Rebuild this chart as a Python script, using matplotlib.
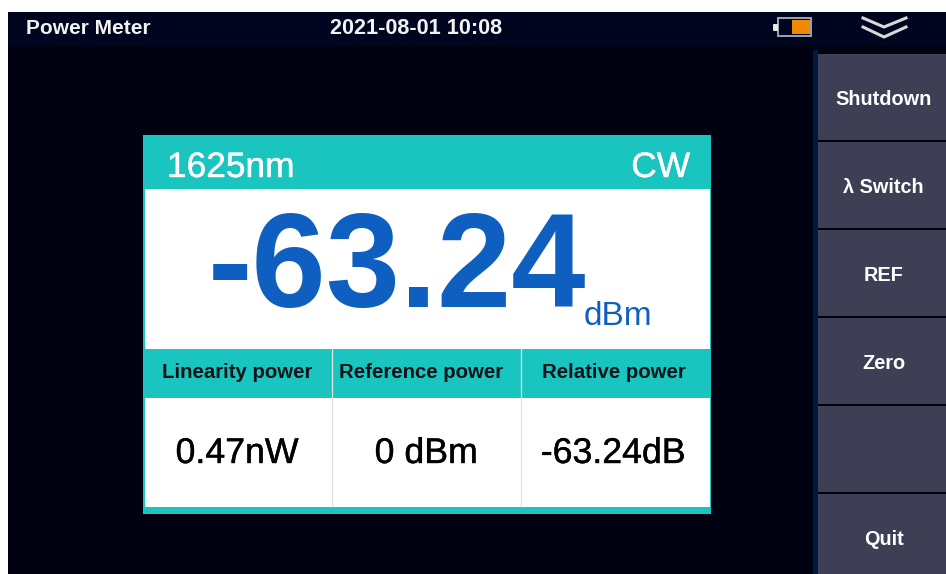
# coding: utf-8
import matplotlib
matplotlib.use('Agg')
import matplotlib.pyplot as plt
import matplotlib.patheffects as pe
from matplotlib.patches import Rectangle, FancyBboxPatch

plt.rcParams['font.family'] = ['Liberation Sans', 'DejaVu Sans']

# texts
title = 'Power Meter'
clock = '2021-08-01 10:08'
buttons = ['Shutdown', 'λ Switch', 'REF', 'Zero', '', 'Quit']
wavelength = '1625nm'
mode = 'CW'
reading = '-63.24'
unit = 'dBm'
headers = ['Linearity power', 'Reference power', 'Relative power']
values = ['0.47nW', '0 dBm', '-63.24dB']

W, H = 946, 574
DARK = '#000212'
BAR = '#00051f'
TEAL = '#1ac5bf'
BTN = '#3e3e54'
BLUE = '#0f5fc0'

fig = plt.figure(figsize=(W / 100, H / 100), dpi=100, facecolor='white')
ax = fig.add_axes([0, 0, 1, 1])
ax.set_xlim(0, W)
ax.set_ylim(H, 0)
ax.axis('off')


def box(x0, y0, x1, y1, color, z=1):
    ax.add_patch(Rectangle((x0, y0), x1 - x0, y1 - y0, fc=color, ec='none', zorder=z))


def heavy(color, w=0.3):
    # the screen font renders a bit fatter than Liberation does here
    return [pe.withStroke(linewidth=w, foreground=color)]


# background
box(8, 12, W, H, DARK)
box(8, 12, W, 46, BAR)
ax.text(26, 34, title, color='#f2f2f2', fontsize=15, fontweight='bold', va='baseline', ha='left')
ax.text(416, 34, clock, color='#f2f2f2', fontsize=15.6, fontweight='bold', va='baseline', ha='center')

# battery
box(777, 17, 812, 37, '#9a9fa8', 2)
box(779, 19, 810, 35, '#00051f', 3)
box(792, 20, 810, 34, '#f08a00', 4)
ax.add_patch(FancyBboxPatch((774, 25), 3, 5, boxstyle='round,pad=1', fc='#e8e8e8', ec='none', zorder=2))

# chevrons at the top right
for y_end, y_mid in [(18, 27), (27, 37)]:
    ax.plot([863, 884, 906], [y_end, y_mid, y_end], color='#d8d8d8', lw=2.2, zorder=3)

# side buttons
box(813, 50, 818, H, '#001a3c')
btn_top = 54
btn_h = 88
for i, label in enumerate(buttons):
    y0 = btn_top + i * btn_h
    box(818, y0, W, min(y0 + btn_h - 2, H), BTN, 2)
    ax.text(883.5, y0 + 51, label, color='white', fontsize=14.3, fontweight='bold', va='baseline', ha='center', zorder=5)

# main panel
box(143, 135, 711, 514, TEAL)
box(145, 189, 710, 349, 'white', 2)
ax.text(167, 177, wavelength, color='white', fontsize=25.4, va='baseline', ha='left', zorder=3, path_effects=heavy('white'))
ax.text(690, 177, mode, color='white', fontsize=25.4, va='baseline', ha='right', zorder=3, path_effects=heavy('white'))
ax.text(397, 307, reading, color=BLUE, fontsize=96, fontweight='bold', va='baseline', ha='center', zorder=3)
ax.text(618, 325, unit, color=BLUE, fontsize=24, va='baseline', ha='center', zorder=3)

# table below the reading
col_edges = [145, 332, 521, 710]
header_x = [237, 421, 614]
value_x = [237, 426, 613]
box(145, 398, 710, 507, 'white', 2)
for i in range(3):
    ax.text(header_x[i], 378, headers[i], color='#06141a', fontsize=14.7, fontweight='bold', va='baseline', ha='center', zorder=3)
    ax.text(value_x[i], 463, values[i], color='black', fontsize=25.7, va='baseline', ha='center', zorder=3, path_effects=heavy('black'))
for x in col_edges[1:3]:
    ax.plot([x, x], [349, 506], color='#e2e2e2', lw=0.9, zorder=4)

fig.savefig('out.png', dpi=100)
